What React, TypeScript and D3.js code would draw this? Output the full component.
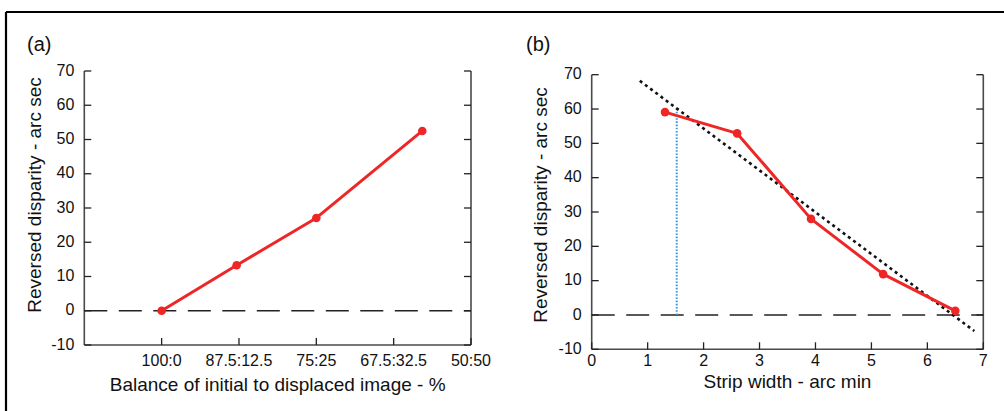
import React from "react";
import * as d3 from "d3";

const W = 1004;
const H = 411;

// Panel (a)
const aTickPos = [1, 2, 3, 4, 5];
const aTickLabels = ["100:0", "87.5:12.5", "75:25", "67.5:32.5", "50:50"];
const aX = [1, 1.97, 3.0, 4.37];
const aY = [0, 13.3, 27.1, 52.5];

// Panel (b)
const bTicks = [0, 1, 2, 3, 4, 5, 6, 7];
const bX = [1.31, 2.6, 3.92, 5.21, 6.5];
const bY = [59.1, 52.9, 28.0, 11.9, 1.2];
const bFitX = [0.86, 6.84];
const bFitSlope = -12.19;
const bFitIntercept = 78.7;
const bDropX = 1.52;

const yTicks = [-10, 0, 10, 20, 30, 40, 50, 60, 70];

const RED = "#ee2626";
const AXIS = "#4a4a4a";
const FONT = "'Liberation Sans', Arial, Helvetica, sans-serif";

function Frame({ x, y, xTickVals, xTickFmt, xTitle, xTitleY, yTitleX, yTitleY, label, labelX }: any) {
  const [x0, x1] = x.range();
  const [y0, y1] = y.range(); // y0 bottom, y1 top
  const tl = 7;
  return (
    <g>
      <line x1={x0} y1={y0} x2={x1} y2={y0} stroke={AXIS} strokeWidth={1.6} />
      <line x1={x0} y1={y0} x2={x0} y2={y1} stroke={AXIS} strokeWidth={1.6} />
      <line x1={x1} y1={y0} x2={x1} y2={y1} stroke={AXIS} strokeWidth={1.6} />
      {yTicks.map((t) => (
        <g key={"y" + t}>
          <line x1={x0} x2={x0 + tl} y1={y(t)} y2={y(t)} stroke="#222" strokeWidth={1.3} />
          <line x1={x1} x2={x1 - tl} y1={y(t)} y2={y(t)} stroke="#222" strokeWidth={1.3} />
          <text x={x0 - 10} y={y(t) - 1} dy="0.35em" textAnchor="end" fontSize={16} fontFamily={FONT} fill="#111">
            {t}
          </text>
        </g>
      ))}
      {xTickVals.map((t: number, i: number) => (
        <g key={"x" + t}>
          <line x1={x(t)} x2={x(t)} y1={y0} y2={y0 - tl} stroke="#222" strokeWidth={1.3} />
          <text x={x(t)} y={366} textAnchor="middle" fontSize={16} fontFamily={FONT} fill="#111">
            {xTickFmt(t, i)}
          </text>
        </g>
      ))}
      <line
        x1={x0}
        x2={x1}
        y1={y(0)}
        y2={y(0)}
        stroke="#222"
        strokeWidth={1.3}
        strokeDasharray="23 11.5"
      />
      <text x={(x0 + x1) / 2} y={xTitleY} textAnchor="middle" fontSize={19} fontFamily={FONT} fill="#111">
        {xTitle}
      </text>
      <text
        transform={`translate(${yTitleX},${yTitleY}) rotate(-90)`}
        textAnchor="middle"
        fontSize={19}
        fontFamily={FONT}
        fill="#111"
      >
        Reversed disparity - arc sec
      </text>
      <text x={labelX} y={51} fontSize={20} fontFamily={FONT} fill="#111">
        {label}
      </text>
    </g>
  );
}

export default function App() {
  const xa = d3.scaleLinear().domain([0, 5]).range([84.3, 471]);
  const ya = d3.scaleLinear().domain([-10, 70]).range([345, 71]);
  const xb = d3.scaleLinear().domain([0, 7]).range([591.7, 983.3]);
  const yb = d3.scaleLinear().domain([-10, 70]).range([349.3, 74.7]);

  const aPts = aX.map((v, i) => [xa(v), ya(aY[i])] as [number, number]);
  const bPts = bX.map((v, i) => [xb(v), yb(bY[i])] as [number, number]);
  const line = d3.line();
  const fit = (v: number) => bFitIntercept + bFitSlope * v;

  return (
    <svg
      width={W}
      height={H}
      style={{ position: "absolute", left: 0, top: 0, background: "#fff" }}
    >
      <rect x={0} y={0} width={W} height={H} fill="#fff" />
      <line x1={6} y1={12} x2={W} y2={12} stroke="#000" strokeWidth={2.2} />
      <line x1={6} y1={12} x2={6} y2={H} stroke="#000" strokeWidth={2.2} />

      <Frame
        x={xa}
        y={ya}
        xTickVals={aTickPos}
        xTickFmt={(_t: number, i: number) => aTickLabels[i]}
        xTitle="Balance of initial to displaced image - %"
        xTitleY={391}
        yTitleX={41}
        yTitleY={195}
        label="(a)"
        labelX={27}
      />
      <path d={line(aPts) || ""} fill="none" stroke={RED} strokeWidth={3} strokeLinejoin="round" />
      {aPts.map((p, i) => (
        <circle key={i} cx={p[0]} cy={p[1]} r={4.3} fill={RED} />
      ))}

      <Frame
        x={xb}
        y={yb}
        xTickVals={bTicks}
        xTickFmt={(t: number) => String(t)}
        xTitle="Strip width - arc min"
        xTitleY={388}
        yTitleX={546.5}
        yTitleY={205}
        label="(b)"
        labelX={526}
      />
      <line
        x1={xb(bDropX)}
        x2={xb(bDropX)}
        y1={yb(0)}
        y2={yb(fit(bDropX))}
        stroke="#3a98e0"
        strokeWidth={2}
        strokeDasharray="1.6 1.6"
      />
      <line
        x1={xb(bFitX[0])}
        x2={xb(bFitX[1])}
        y1={yb(fit(bFitX[0]))}
        y2={yb(fit(bFitX[1]))}
        stroke="#111"
        strokeWidth={2.6}
        strokeDasharray="3 3.5"
      />
      <path d={line(bPts) || ""} fill="none" stroke={RED} strokeWidth={3} strokeLinejoin="round" />
      {bPts.map((p, i) => (
        <circle key={i} cx={p[0]} cy={p[1]} r={4.3} fill={RED} />
      ))}
    </svg>
  );
}
